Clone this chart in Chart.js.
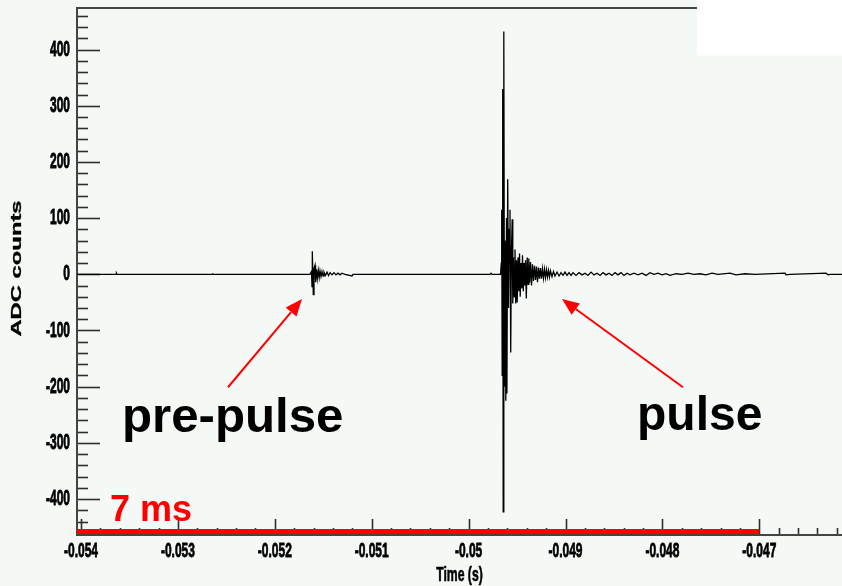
<!DOCTYPE html>
<html><head><meta charset="utf-8">
<script src="https://cdn.jsdelivr.net/npm/chart.js@4/dist/chart.umd.min.js"></script>
<style>html,body{margin:0;padding:0;background:#f5f9f6;overflow:hidden}canvas{display:block}</style>
</head><body>
<canvas id="c" width="842" height="586"></canvas>
<script>
// ---- waveform (time in seconds, ADC counts) ----
const timeS = [
 -0.0540413, -0.0536388, -0.0536337, -0.0536285, -0.0526481, -0.0526430, -0.0526378,
 -0.0516367, -0.0516213, -0.0516161, -0.0516130, -0.0516027, -0.0515955, -0.0515851, -0.0515790,
 -0.0515697, -0.0515614, -0.0515511, -0.0515418, -0.0515335, -0.0515232, -0.0515129, -0.0515026,
 -0.0514923, -0.0514768, -0.0514613, -0.0514458, -0.0514303, -0.0514097, -0.0513891, -0.0513684,
 -0.0513478, -0.0513271, -0.0513065, -0.0512755, -0.0512033, -0.0511930,
 -0.0497792, -0.0497688, -0.0497585, -0.0496708, -0.0496625, -0.0496584, -0.0496533, -0.0496481,
 -0.0496429, -0.0496367, -0.0496295, -0.0496223, -0.0496161, -0.0496089, -0.0496047, -0.0495965,
 -0.0495882, -0.0495800, -0.0495728, -0.0495655, -0.0495583, -0.0495501, -0.0495439, -0.0495366,
 -0.0495284, -0.0495212, -0.0495139, -0.0495057, -0.0494985, -0.0494902, -0.0494830, -0.0494747,
 -0.0494675, -0.0494592, -0.0494510, -0.0494438, -0.0494355, -0.0494283, -0.0494200, -0.0494128,
 -0.0494046, -0.0493953, -0.0493870, -0.0493788, -0.0493705, -0.0493612, -0.0493509, -0.0493406,
 -0.0493303, -0.0493199, -0.0493096, -0.0492993, -0.0492890, -0.0492786, -0.0492683, -0.0492580,
 -0.0492477, -0.0492374, -0.0492270, -0.0492167, -0.0492064, -0.0491961, -0.0491858, -0.0491754,
 -0.0491651, -0.0491548, -0.0491393, -0.0491238, -0.0491084, -0.0490877, -0.0490671, -0.0490464,
 -0.0490258, -0.0490052, -0.0489845, -0.0489639, -0.0489432, -0.0489226, -0.0488916, -0.0488607,
 -0.0488297, -0.0487988, -0.0487678, -0.0487369, -0.0487059, -0.0486749, -0.0486440, -0.0486130,
 -0.0485821, -0.0485511, -0.0485201, -0.0484892, -0.0484582, -0.0484273, -0.0483963, -0.0483653,
 -0.0483344, -0.0482931, -0.0482518, -0.0482105, -0.0481693, -0.0481280, -0.0480867, -0.0480454,
 -0.0480041, -0.0479629, -0.0479216, -0.0478597, -0.0477977, -0.0477358, -0.0476739, -0.0476120,
 -0.0475501, -0.0474881, -0.0474262, -0.0473024, -0.0472405, -0.0471476, -0.0470444, -0.0467348,
 -0.0467245, -0.0466832, -0.0463117, -0.0462911, -0.0462704, -0.0461466
];
const adcCounts = [
 0, 0, 2, 0, 0, 2, 0,
 0, 5, -22, 41, -36, 10, 16, -14,
 9, -8, 7, -6, 6, -4, 5, -3,
 4, -2, 4, -2, 3, -1, 3, -1,
 2, -1, 2, 0, -3, 0,
 0, 2, 0, 0, 20, 115, -180, 330,
 -423, 432, -200, 60, -225, 100, -212, 169,
 -60, 80, 115, -139, 40, 98, -52, 30,
 -40, 44, -52, 25, -50, 30, -30, 37,
 -40, 20, -25, 34, -30, 20, -20, 25,
 -43, 30, -18, 28, -15, 22, -20, 18,
 -12, 15, -10, 14, -14, 12, -8, 11,
 -8, 10, -7, 9, -6, 8, -5, 7,
 -5, 6, -4, 5, -3, 4, -3, 3,
 -2, 4, -2, 3, -2, 3, -2, 3,
 -1, 2, -2, 4, -1, 2, -2, 3,
 -1, 2, -2, 3, -1, 3, -2, 2,
 -1, 2, -1, 2, -2, 3, 0, 2,
 -1, 1, -2, 1, 0, 2, 0, 1,
 -1, 2, 0, 2, -1, 1, 0, 2,
 -1, 0, 2, -1, 0, 0
];

// ---- axes ----
const xRange = [-0.0540413, -0.0461466];
const yRange = [-464, 474];
const xMajorTicks = [-0.054, -0.053, -0.052, -0.051, -0.05, -0.049, -0.048, -0.047];
const xTickLabels = ['-0.054', '-0.053', '-0.052', '-0.051', '-0.05', '-0.049', '-0.048', '-0.047'];
const yMajorTicks = [-400, -300, -200, -100, 0, 100, 200, 300, 400];
const yTickLabels = ['-400', '-300', '-200', '-100', '0', '100', '200', '300', '400'];
const xTitle = 'Time (s)';
const yTitle = 'ADC counts';

// ---- annotations (data units) ----
const scaleBarTime = [-0.0540413, -0.047];
const scaleBarLevel = [-457.8, -457.8];
const scaleBarLabel = '7 ms';
const scaleBarLabelAt = [-0.0537007, -439];
const noteTexts = ['pre-pulse', 'pulse'];
const noteTime = [-0.0535769, -0.0482621];
const noteLevel = [-281, -277];
const arrowTailTime = [-0.0524830, -0.0477874];
const arrowTailLevel = [-201, -201];
const arrowTipTime = [-0.0517193, -0.0490361];
const arrowTipLevel = [-44, -44];

const FONT = '"Liberation Sans", Arial, Helvetica, sans-serif';
function sText(ctx, str, x, y, size, sx, sy, align, baseline, rot, color, stroke) {
  ctx.save();
  ctx.translate(x, y);
  if (rot) ctx.rotate(rot);
  ctx.scale(sx, sy);
  ctx.font = 'bold ' + size + 'px ' + FONT;
  ctx.textAlign = align; ctx.textBaseline = baseline;
  ctx.fillStyle = color || '#111';
  ctx.fillText(str, 0, 0);
  if (stroke) { ctx.strokeStyle = color || '#111'; ctx.lineWidth = stroke; ctx.strokeText(str, 0, 0); }
  ctx.restore();
}

const frame = {
  id: 'frame',
  beforeDraw(chart) {
    const ctx = chart.ctx;
    ctx.save();
    ctx.fillStyle = '#f5f9f6';
    ctx.fillRect(0, 0, chart.width, chart.height);
    ctx.restore();
  },
  beforeDatasetsDraw(chart) {
    const ctx = chart.ctx, a = chart.chartArea;
    const xs = chart.scales.x, ys = chart.scales.y;
    ctx.save();
    ctx.strokeStyle = '#2e2e2e';
    ctx.lineWidth = 1.6;
    // y ticks (inside, pointing right)
    for (let v = -460; v <= 460; v += 20) {
      const py = Math.round(ys.getPixelForValue(v)) + 0.5;
      const len = (v % 100 === 0) ? 23 : 11;
      ctx.beginPath(); ctx.moveTo(a.left, py); ctx.lineTo(a.left + len, py); ctx.stroke();
    }
    // x ticks (inside, pointing up)
    for (let k = 0; k < 60; k++) {
      const v = (-540 + 2 * k) / 10000;
      if (v > xRange[1]) break;
      const px = Math.round(xs.getPixelForValue(v)) + 0.5;
      const len = (k % 5 === 0) ? 16 : 7;
      ctx.beginPath(); ctx.moveTo(px, a.bottom); ctx.lineTo(px, a.bottom - len); ctx.stroke();
    }
    // axis lines
    ctx.strokeStyle = '#444';
    ctx.lineWidth = 2;
    ctx.beginPath(); ctx.moveTo(a.left, a.top); ctx.lineTo(a.left, a.bottom + 1); ctx.stroke();
    ctx.beginPath(); ctx.moveTo(a.left - 1, a.bottom); ctx.lineTo(a.right, a.bottom); ctx.stroke();
    ctx.beginPath(); ctx.moveTo(a.left - 1, a.top); ctx.lineTo(697, a.top); ctx.stroke();
    ctx.restore();
    // tick labels
    yMajorTicks.forEach((v, i) => {
      sText(ctx, yTickLabels[i], 70, ys.getPixelForValue(v), 20, 0.6, 1.12, 'right', 'middle', 0, '#000', 0.8);
    });
    xMajorTicks.forEach((v, i) => {
      sText(ctx, xTickLabels[i], xs.getPixelForValue(v), 552, 20, 0.6, 0.97, 'center', 'middle', 0, '#000', 0.8);
    });
    // titles
    sText(ctx, xTitle, (a.left + a.right) / 2, 575, 20, 0.61, 1.0, 'center', 'middle', 0, '#000', 0.6);
    sText(ctx, yTitle, 20.5, 268.5, 14, 1.7, 1.0, 'center', 'alphabetic', -Math.PI / 2, '#000', 0.3);
  },
  afterDraw(chart) {
    const ctx = chart.ctx;
    const xs = chart.scales.x, ys = chart.scales.y;
    // white box top-right
    ctx.save();
    ctx.fillStyle = '#ffffff';
    ctx.fillRect(697, 0, chart.width - 697, 55.5);
    ctx.restore();
    // annotation texts
    noteTexts.forEach((t, i) => {
      sText(ctx, t, xs.getPixelForValue(noteTime[i]), ys.getPixelForValue(noteLevel[i]), 48, i === 0 ? 1.025 : 1, 1, 'left', 'alphabetic', 0, '#000');
    });
    sText(ctx, scaleBarLabel, xs.getPixelForValue(scaleBarLabelAt[0]), ys.getPixelForValue(scaleBarLabelAt[1]), 36, 1, 1, 'left', 'alphabetic', 0, '#ff0000');
    // arrows
    ctx.save();
    ctx.strokeStyle = '#ff0000'; ctx.fillStyle = '#ff0000'; ctx.lineWidth = 2;
    for (let i = 0; i < arrowTipTime.length; i++) {
      const x0 = xs.getPixelForValue(arrowTailTime[i]), y0 = ys.getPixelForValue(arrowTailLevel[i]);
      const x1 = xs.getPixelForValue(arrowTipTime[i]), y1 = ys.getPixelForValue(arrowTipLevel[i]);
      const ang = Math.atan2(y1 - y0, x1 - x0);
      const hl = 17, hw = 7;
      const bx = x1 - hl * Math.cos(ang), by = y1 - hl * Math.sin(ang);
      ctx.beginPath(); ctx.moveTo(x0, y0); ctx.lineTo(bx, by); ctx.stroke();
      ctx.beginPath();
      ctx.moveTo(x1, y1);
      ctx.lineTo(bx + hw * Math.sin(ang), by - hw * Math.cos(ang));
      ctx.lineTo(bx - hw * Math.sin(ang), by + hw * Math.cos(ang));
      ctx.closePath(); ctx.fill();
    }
    ctx.restore();
  }
};

new Chart(document.getElementById('c'), {
  type: 'line',
  data: {
    datasets: [
      {
        data: timeS.map((t, i) => ({ x: t, y: adcCounts[i] })),
        borderColor: '#000', borderWidth: 1.3, pointRadius: 0, tension: 0, fill: false
      },
      {
        data: scaleBarTime.map((t, i) => ({ x: t, y: scaleBarLevel[i] })),
        borderColor: '#ff0000', borderWidth: 5, pointRadius: 0, fill: false
      }
    ]
  },
  options: {
    responsive: false, animation: false, devicePixelRatio: 1,
    layout: { padding: { top: 8, right: 0, left: 0, bottom: 0 } },
    plugins: { legend: { display: false }, tooltip: { enabled: false } },
    scales: {
      x: {
        type: 'linear', min: xRange[0], max: xRange[1],
        grid: { display: false }, border: { display: false }, ticks: { display: false },
        afterFit: s => { s.height = 51; }
      },
      y: {
        type: 'linear', min: yRange[0], max: yRange[1],
        grid: { display: false }, border: { display: false }, ticks: { display: false },
        afterFit: s => { s.width = 77; }
      }
    }
  },
  plugins: [frame]
});
</script>
</body></html>
